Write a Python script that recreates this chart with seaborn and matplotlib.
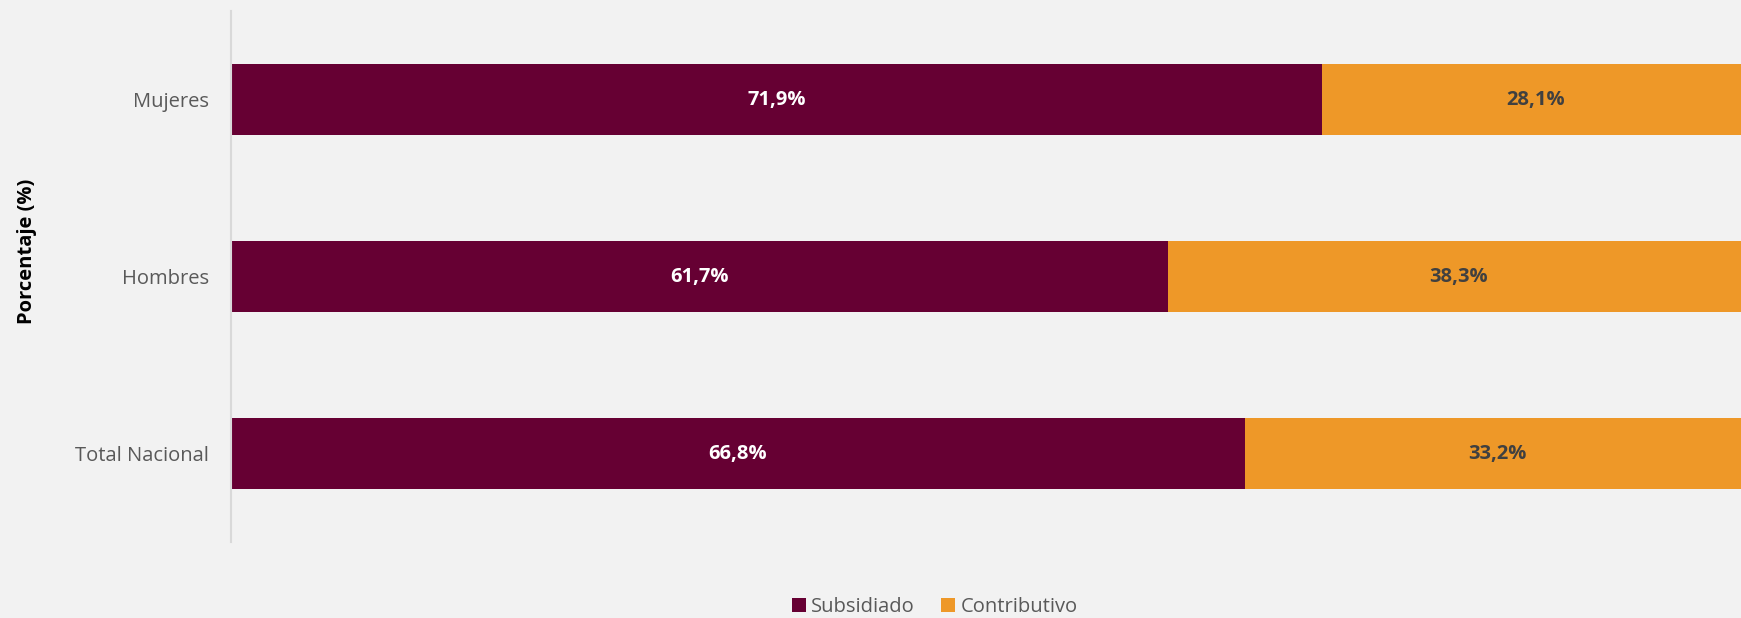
import matplotlib
matplotlib.use("Agg")
import matplotlib.pyplot as plt
import seaborn as sns
import pandas as pd
from matplotlib.patches import Patch

categories = ["Mujeres", "Hombres", "Total Nacional"]
subsidiado = [71.9, 61.7, 66.8]
contributivo = [28.1, 38.3, 33.2]
series_names = ["Subsidiado", "Contributivo"]

MAROON = "#660033"
ORANGE = "#EE9828"
BG = "#F2F2F2"

sns.set_theme(style="white")
plt.rcParams["font.family"] = ["Open Sans", "DejaVu Sans"]

FS = 14.5

fig = plt.figure(figsize=(17.41, 6.18), dpi=100, facecolor=BG)
ax = fig.add_axes([231 / 1741, 1 - 542 / 618, (1749 - 231) / 1741, (542 - 11) / 618])
ax.set_facecolor(BG)

df = pd.DataFrame({"cat": categories, "sub": subsidiado, "cont": contributivo})
df["total"] = df["sub"] + df["cont"]

sns.barplot(data=df, x="total", y="cat", order=categories, color=ORANGE,
            width=0.4, ax=ax, saturation=1, linewidth=0)
sns.barplot(data=df, x="sub", y="cat", order=categories, color=MAROON,
            width=0.4, ax=ax, saturation=1, linewidth=0)

ax.set_xlim(0, 100)
ax.set_ylim(2.5, -0.5)

for i, (s, c) in enumerate(zip(subsidiado, contributivo)):
    ax.text(s / 2, i, f"{s:.1f}%".replace(".", ","), ha="center", va="center",
            color="white", fontsize=FS, fontweight="bold")
    ax.text(s + c / 2, i, f"{c:.1f}%".replace(".", ","), ha="center", va="center",
            color="#404040", fontsize=FS, fontweight="bold")

ax.set_xticks([])
ax.set_xlabel("")
ax.set_ylabel("Porcentaje (%)", fontsize=FS, fontweight="bold", color="black")
ax.yaxis.set_label_coords(-0.128, 0.548)
ax.tick_params(axis="y", length=0, labelsize=FS, labelcolor="#595959", pad=16)

for side in ["top", "right", "bottom"]:
    ax.spines[side].set_visible(False)
ax.spines["left"].set_color("#D9D9D9")
ax.spines["left"].set_linewidth(1.5)

handles = [Patch(facecolor=MAROON, edgecolor="none"), Patch(facecolor=ORANGE, edgecolor="none")]
leg = fig.legend(handles, series_names, loc="center", bbox_to_anchor=(0.537, 0.018),
                 ncol=2, frameon=False, fontsize=FS, handlelength=0.7, handleheight=0.7,
                 handletextpad=0.25, columnspacing=1.3, borderpad=0)
for t in leg.get_texts():
    t.set_color("#595959")

fig.savefig("out.png", dpi=100, facecolor=BG)
